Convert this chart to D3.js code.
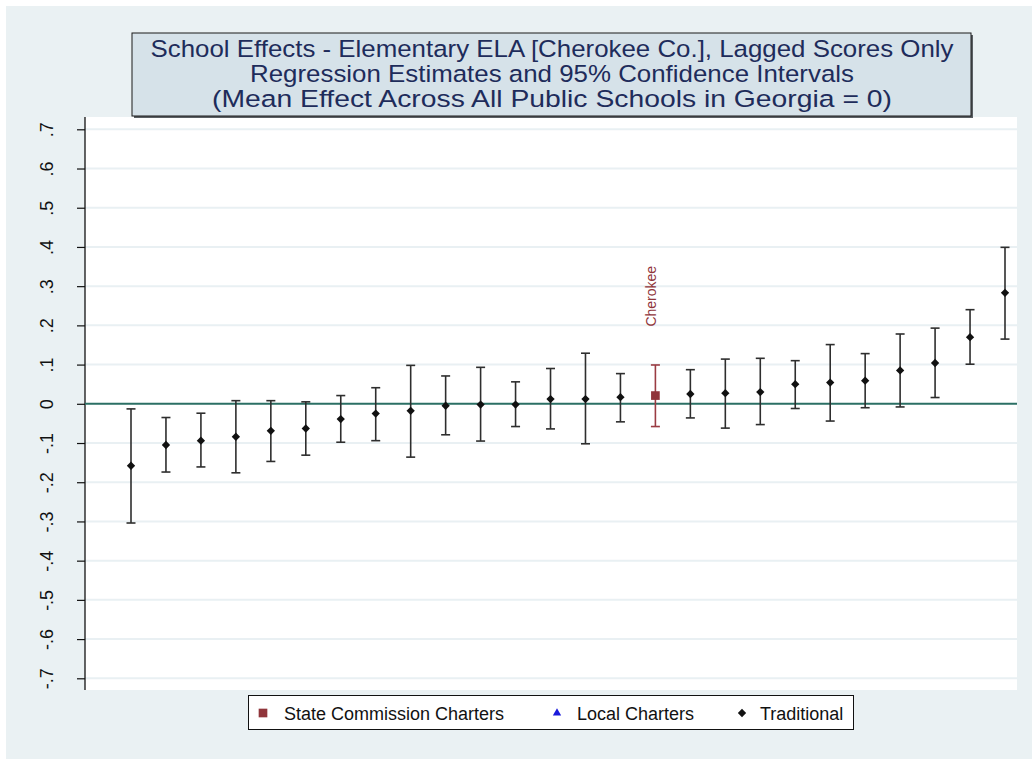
<!DOCTYPE html>
<html><head><meta charset="utf-8">
<script src="https://cdn.jsdelivr.net/npm/d3@7"></script>
<style>html,body{margin:0;padding:0;background:#fff}svg{display:block;font-family:"Liberation Sans",Arial,sans-serif}</style>
</head><body><svg id="c" width="1032" height="759"></svg>
<script>
// ---- data ----
const titleLines = ["School Effects - Elementary ELA [Cherokee Co.], Lagged Scores Only",
  "Regression Estimates and 95% Confidence Intervals",
  "(Mean Effect Across All Public Schools in Georgia = 0)"];
const rank = d3.range(1, 27);
const estimate = [-0.158,-0.105,-0.094,-0.084,-0.069,-0.063,-0.039,-0.025,-0.018,-0.005,-0.002,-0.002,0.012,0.012,0.017,0.021,0.025,0.027,0.030,0.050,0.054,0.059,0.085,0.104,0.170,0.283];
const lower = [-0.304,-0.174,-0.161,-0.176,-0.147,-0.131,-0.098,-0.094,-0.136,-0.079,-0.095,-0.058,-0.064,-0.102,-0.046,-0.058,-0.036,-0.062,-0.053,-0.012,-0.044,-0.010,-0.008,0.016,0.101,0.165];
const upper = [-0.013,-0.035,-0.024,0.008,0.008,0.005,0.021,0.041,0.098,0.071,0.093,0.056,0.090,0.129,0.077,0.099,0.087,0.114,0.116,0.110,0.151,0.128,0.178,0.193,0.240,0.399];
const schoolType = rank.map(r => r === 16 ? "State Commission Charters" : "Traditional");
const pointLabel = rank.map(r => r === 16 ? "Cherokee" : "");
const yTicks = [-0.7,-0.6,-0.5,-0.4,-0.3,-0.2,-0.1,0,0.1,0.2,0.3,0.4,0.5,0.6,0.7];
const yTickLabels = ["-.7","-.6","-.5","-.4","-.3","-.2","-.1","0",".1",".2",".3",".4",".5",".6",".7"];
const legendLabels = ["State Commission Charters","Local Charters","Traditional"];

// ---- layout ----
const svg = d3.select("#c");
const plot = {l:85, r:1017, t:117, b:690};
const y = d3.scaleLinear().domain([-0.7, 0.7]).range([678.3, 129.3]);
const x = d3.scaleLinear().domain([1, 26]).range([131, 1005]);
const colors = {"State Commission Charters":"#90353b","Local Charters":"#1a1adb","Traditional":"#111"};
const barColors = {"State Commission Charters":"#9a3c43","Local Charters":"#1a1adb","Traditional":"#2e2e2e"};

svg.append("rect").attr("x",0).attr("y",0).attr("width",1032).attr("height",759).attr("fill","#fff");
svg.append("rect").attr("x",6).attr("y",6).attr("width",1026).attr("height",753).attr("fill","#eaf1f3");
svg.append("rect").attr("x",plot.l).attr("y",plot.t).attr("width",plot.r-plot.l).attr("height",plot.b-plot.t).attr("fill","#fff");

// gridlines
svg.append("g").selectAll("line").data(yTicks.filter(d=>d!==0)).join("line")
  .attr("x1",plot.l).attr("x2",plot.r).attr("y1",d=>y(d)).attr("y2",d=>y(d))
  .attr("stroke","#e9f0f3").attr("stroke-width",2);

// y axis
const yAxis = d3.axisLeft(y).tickValues(yTicks).tickSize(8).tickFormat((d,i)=>yTickLabels[i]);
const ga = svg.append("g").attr("transform",`translate(${plot.l},0)`).call(yAxis);
ga.select(".domain").remove();
ga.selectAll(".tick line").attr("stroke","#111").attr("stroke-width",1.2);
ga.selectAll(".tick text").attr("x",0).attr("dy",0).attr("text-anchor","middle")
  .attr("transform","translate(-32,0) rotate(-90)")
  .attr("font-size",18).attr("fill","#111").attr("font-family","Liberation Sans, Arial, sans-serif");
svg.append("line").attr("x1",plot.l).attr("x2",plot.l).attr("y1",plot.t).attr("y2",plot.b)
  .attr("stroke","#111").attr("stroke-width",1.3);

// zero line
svg.append("line").attr("x1",plot.l).attr("x2",plot.r).attr("y1",y(0)).attr("y2",y(0))
  .attr("stroke","#2b6f64").attr("stroke-width",2);

// error bars
const rows = rank.map((r,i)=>({r, est:estimate[i], lo:lower[i], hi:upper[i], type:schoolType[i], label:pointLabel[i]}));
const gb = svg.append("g");
rows.forEach(d=>{
  const c = barColors[d.type];
  gb.append("line").attr("x1",x(d.r)).attr("x2",x(d.r)).attr("y1",y(d.lo)).attr("y2",y(d.hi)).attr("stroke",c).attr("stroke-width",1.6);
  [d.lo,d.hi].forEach(v=>gb.append("line").attr("x1",x(d.r)-4.5).attr("x2",x(d.r)+4.5).attr("y1",y(v)).attr("y2",y(v)).attr("stroke",c).attr("stroke-width",1.6));
});
// markers
const sym = {"State Commission Charters":d3.symbolSquare,"Local Charters":d3.symbolTriangle,"Traditional":d3.symbolDiamond2};
const symSize = {"State Commission Charters":75,"Local Charters":30,"Traditional":44};
gb.selectAll("path.m").data(rows).join("path").attr("class","m")
  .attr("transform",d=>`translate(${x(d.r)},${y(d.est)})`)
  .attr("d",d=>d3.symbol(sym[d.type], symSize[d.type])())
  .attr("fill",d=>colors[d.type]);
// point labels
gb.selectAll("text.pl").data(rows.filter(d=>d.label)).join("text").attr("class","pl")
  .attr("transform",d=>`translate(${x(d.r)+0.5},${y(d.est)-69}) rotate(-90)`)
  .attr("font-size",14).attr("fill","#90353b").text(d=>d.label);

// title box
svg.append("rect").attr("x",134).attr("y",35).attr("width",839).attr("height",83).attr("fill","#5a5f63");
svg.append("rect").attr("x",132).attr("y",33).attr("width",839).attr("height",83).attr("fill","#d6e2e9").attr("stroke","#1a1a1a").attr("stroke-width",1);
const titleWidths = [803, 604, 680];
svg.append("g").selectAll("text").data(titleLines).join("text")
  .attr("x",552).attr("y",(d,i)=>57+i*25).attr("text-anchor","middle")
  .attr("font-size",24.5).attr("fill","#1e2c5b")
  .attr("textLength",(d,i)=>titleWidths[i]).attr("lengthAdjust","spacingAndGlyphs")
  .text(d=>d);

// legend
svg.append("rect").attr("x",248.5).attr("y",695.5).attr("width",605).attr("height",34).attr("fill","#fff").attr("stroke","#111").attr("stroke-width",1);
const legItems = [
  {label:legendLabels[0], mx:263, tx:284},
  {label:legendLabels[1], mx:557, tx:577},
  {label:legendLabels[2], mx:742, tx:760}];
const gl = svg.append("g");
legItems.forEach(it=>{
  gl.append("path").attr("transform",`translate(${it.mx},${713})`).attr("d",d3.symbol(sym[it.label], symSize[it.label])()).attr("fill",colors[it.label]);
  gl.append("text").attr("x",it.tx).attr("y",720).attr("font-size",18).attr("fill","#111").text(it.label);
});
</script></body></html>
